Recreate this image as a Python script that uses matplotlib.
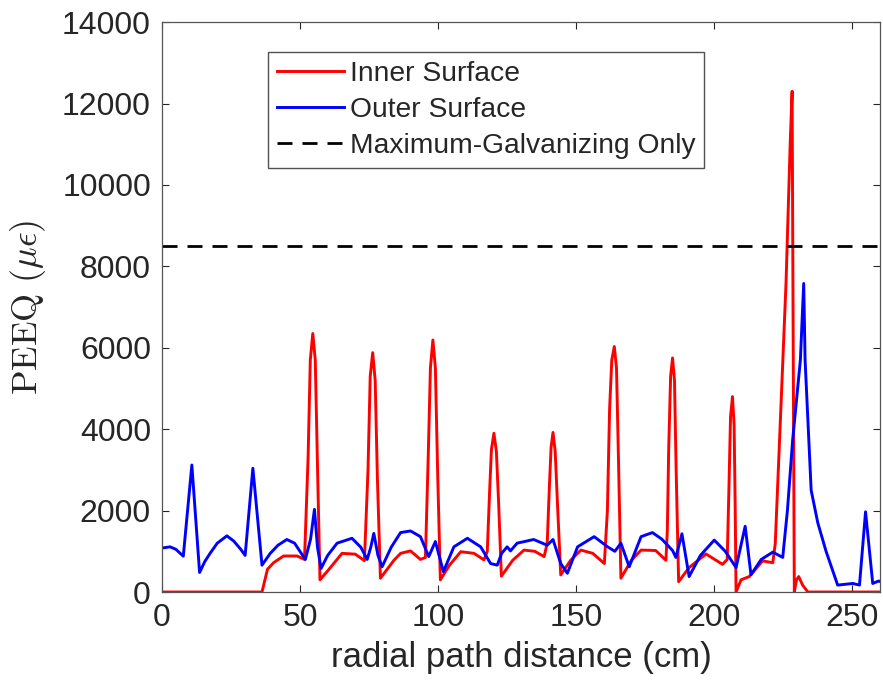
import matplotlib
matplotlib.use("Agg")
import matplotlib.pyplot as plt

plt.rcParams['font.family'] = ['Liberation Sans', 'DejaVu Sans']
plt.rcParams['mathtext.fontset'] = 'cm'

# Inner surface (red)
inner_x = [0, 36.2, 38.2, 40.4, 44.0, 48.9,
           51.6, 52.9, 53.7, 54.6, 55.5, 56.3, 57.2,
           60, 65.2, 70,
           73.3, 74.6, 75.4, 76.3, 77.2, 78.0, 79.1,
           84, 86.4, 90,
           93.6, 95.4, 96.4, 97.2, 98.1, 99.0, 99.8, 100.8,
           104, 108.2, 113,
           116.6, 117.8, 118.6, 119.3, 120.2, 121.1, 121.9, 122.9,
           127, 131.1, 135,
           138.4, 139.5, 140.3, 140.9, 141.6, 142.4, 143.2, 144.4,
           148, 151.7, 156,
           160.2, 161.3, 162.1, 162.9, 163.8, 164.6, 165.3, 166.2,
           170, 173.5, 178.8,
           182.5, 183.0, 183.5, 184.2, 184.9, 185.6, 186.2, 187.1,
           190.9, 197, 203,
           204.7, 205.3, 205.9, 206.6, 207.2, 207.6, 207.9,
           209.7, 212.7, 217.5, 221.2, 222.1,
           224, 226, 227.5, 228.2, 228.6, 229.0,
           229.8, 230.6, 232, 233.9, 260]
inner_y = [0, 0, 560, 720, 885, 885,
           800, 3300, 5700, 6350, 5700, 3100, 300,
           520, 950, 930,
           770, 3000, 5300, 5880, 5200, 2800, 340,
           780, 950, 1010,
           800, 850, 3300, 5500, 6190, 5500, 3000, 300,
           650, 990, 950,
           790, 1000, 2400, 3500, 3900, 3450, 2200, 390,
           780, 1030, 1000,
           870, 1200, 2600, 3550, 3920, 3450, 2200, 420,
           780, 1030, 950,
           700, 2000, 4500, 5700, 6030, 5500, 3300, 340,
           780, 1030, 1020,
           780, 1500, 3500, 5300, 5750, 5200, 3000, 255,
           600, 935, 680,
           800, 2500, 4300, 4800, 4100, 2000, 0,
           300, 380, 765, 720, 1190,
           4300, 7600, 11000, 12300, 6000, 0,
           300, 380, 170, 0, 0]

# Outer surface (blue)
outer_x = [0, 2.9, 5, 7.7, 10.8, 13.6, 15.5, 17.4, 20, 23.5, 26, 28.5, 30.1,
           32.9, 36.2, 39.2, 42, 45.2, 48, 51.9, 53.8, 55.2, 56.3,
           57.6, 60, 63.4, 68.8, 72, 74.3, 75.6, 76.7, 78.2, 79.7, 83, 86.4,
           90, 93.6, 96.6, 99.0, 101.9, 105.7, 110.6, 115.4, 119, 121.4, 123,
           125, 126.2, 128.6, 134.6, 139.5, 141.6, 144.4, 146.8, 150.5, 156.5,
           161.4, 164, 166.2, 169.2, 173.5, 177.6, 181, 184.9, 186.1, 188.3,
           190.9, 195, 200, 204, 207.9, 211.2, 213.3, 217, 221.2, 224.8, 226.5,
           228.4, 231.2, 232.4, 232.9, 235.1, 237.5, 240.5, 244.7, 250.2, 252.6,
           254.8, 257.4, 259.5, 260]
outer_y = [1080, 1110, 1050, 880, 3120, 480, 750, 950, 1200, 1380, 1250, 1050, 900,
           3040, 660, 950, 1150, 1290, 1200, 800, 1300, 2030, 1100,
           580, 900, 1200, 1320, 1100, 800, 1100, 1440, 900, 620, 1100, 1460,
           1500, 1360, 870, 1240, 500, 1110, 1320, 1110, 700, 660, 950,
           1110, 1010, 1200, 1290, 1150, 1290, 700, 460, 1110, 1360,
           1110, 1000, 1200, 620, 1360, 1460, 1300, 1020, 850, 1430,
           380, 900, 1275, 1000, 600, 1615, 425, 800, 980, 850, 2000,
           3740, 5700, 7580, 5700, 2500, 1700, 1000, 170, 210, 170,
           1970, 210, 270, 260]

galv_max = 8500

fig = plt.figure(figsize=(8.83, 6.9), dpi=100)
ax = fig.add_axes([0.1835, 0.142, 0.813, 0.826])

ax.plot(inner_x, inner_y, color="#ff0000", lw=2.1, label="Inner Surface")
ax.plot(outer_x, outer_y, color="#0000ff", lw=2.1, label="Outer Surface")
ax.axhline(galv_max, color="black", lw=2, ls=(0, (5.4, 3.6)), label="Maximum-Galvanizing Only")

ax.set_xlim(0, 260)
ax.set_ylim(0, 14000)
ax.set_xticks([0, 50, 100, 150, 200, 250])
ax.set_yticks(range(0, 14001, 2000))
ax.tick_params(direction="in", top=True, right=True, labelsize=23,
               colors="#262626", length=5, width=0.8, pad=8)
for s in ax.spines.values():
    s.set_color("#555555")
    s.set_linewidth(0.9)

ax.set_xlabel("radial path distance (cm)", fontsize=25, color="#262626", labelpad=6)
ax.set_ylabel(r"$\mathrm{PEEQ}\ (\mu\epsilon)$", fontsize=26, color="#262626", labelpad=10)

leg = ax.legend(loc="upper left", bbox_to_anchor=(0.148, 0.947), fontsize=20.3,
                frameon=True, fancybox=False, handlelength=2.4, borderpad=0.3,
                labelspacing=0.36, handletextpad=0.2, borderaxespad=0)
leg.get_frame().set_edgecolor("#262626")
leg.get_frame().set_linewidth(1)
for t in leg.get_texts():
    t.set_color("#262626")

fig.savefig("out.png", dpi=100)
